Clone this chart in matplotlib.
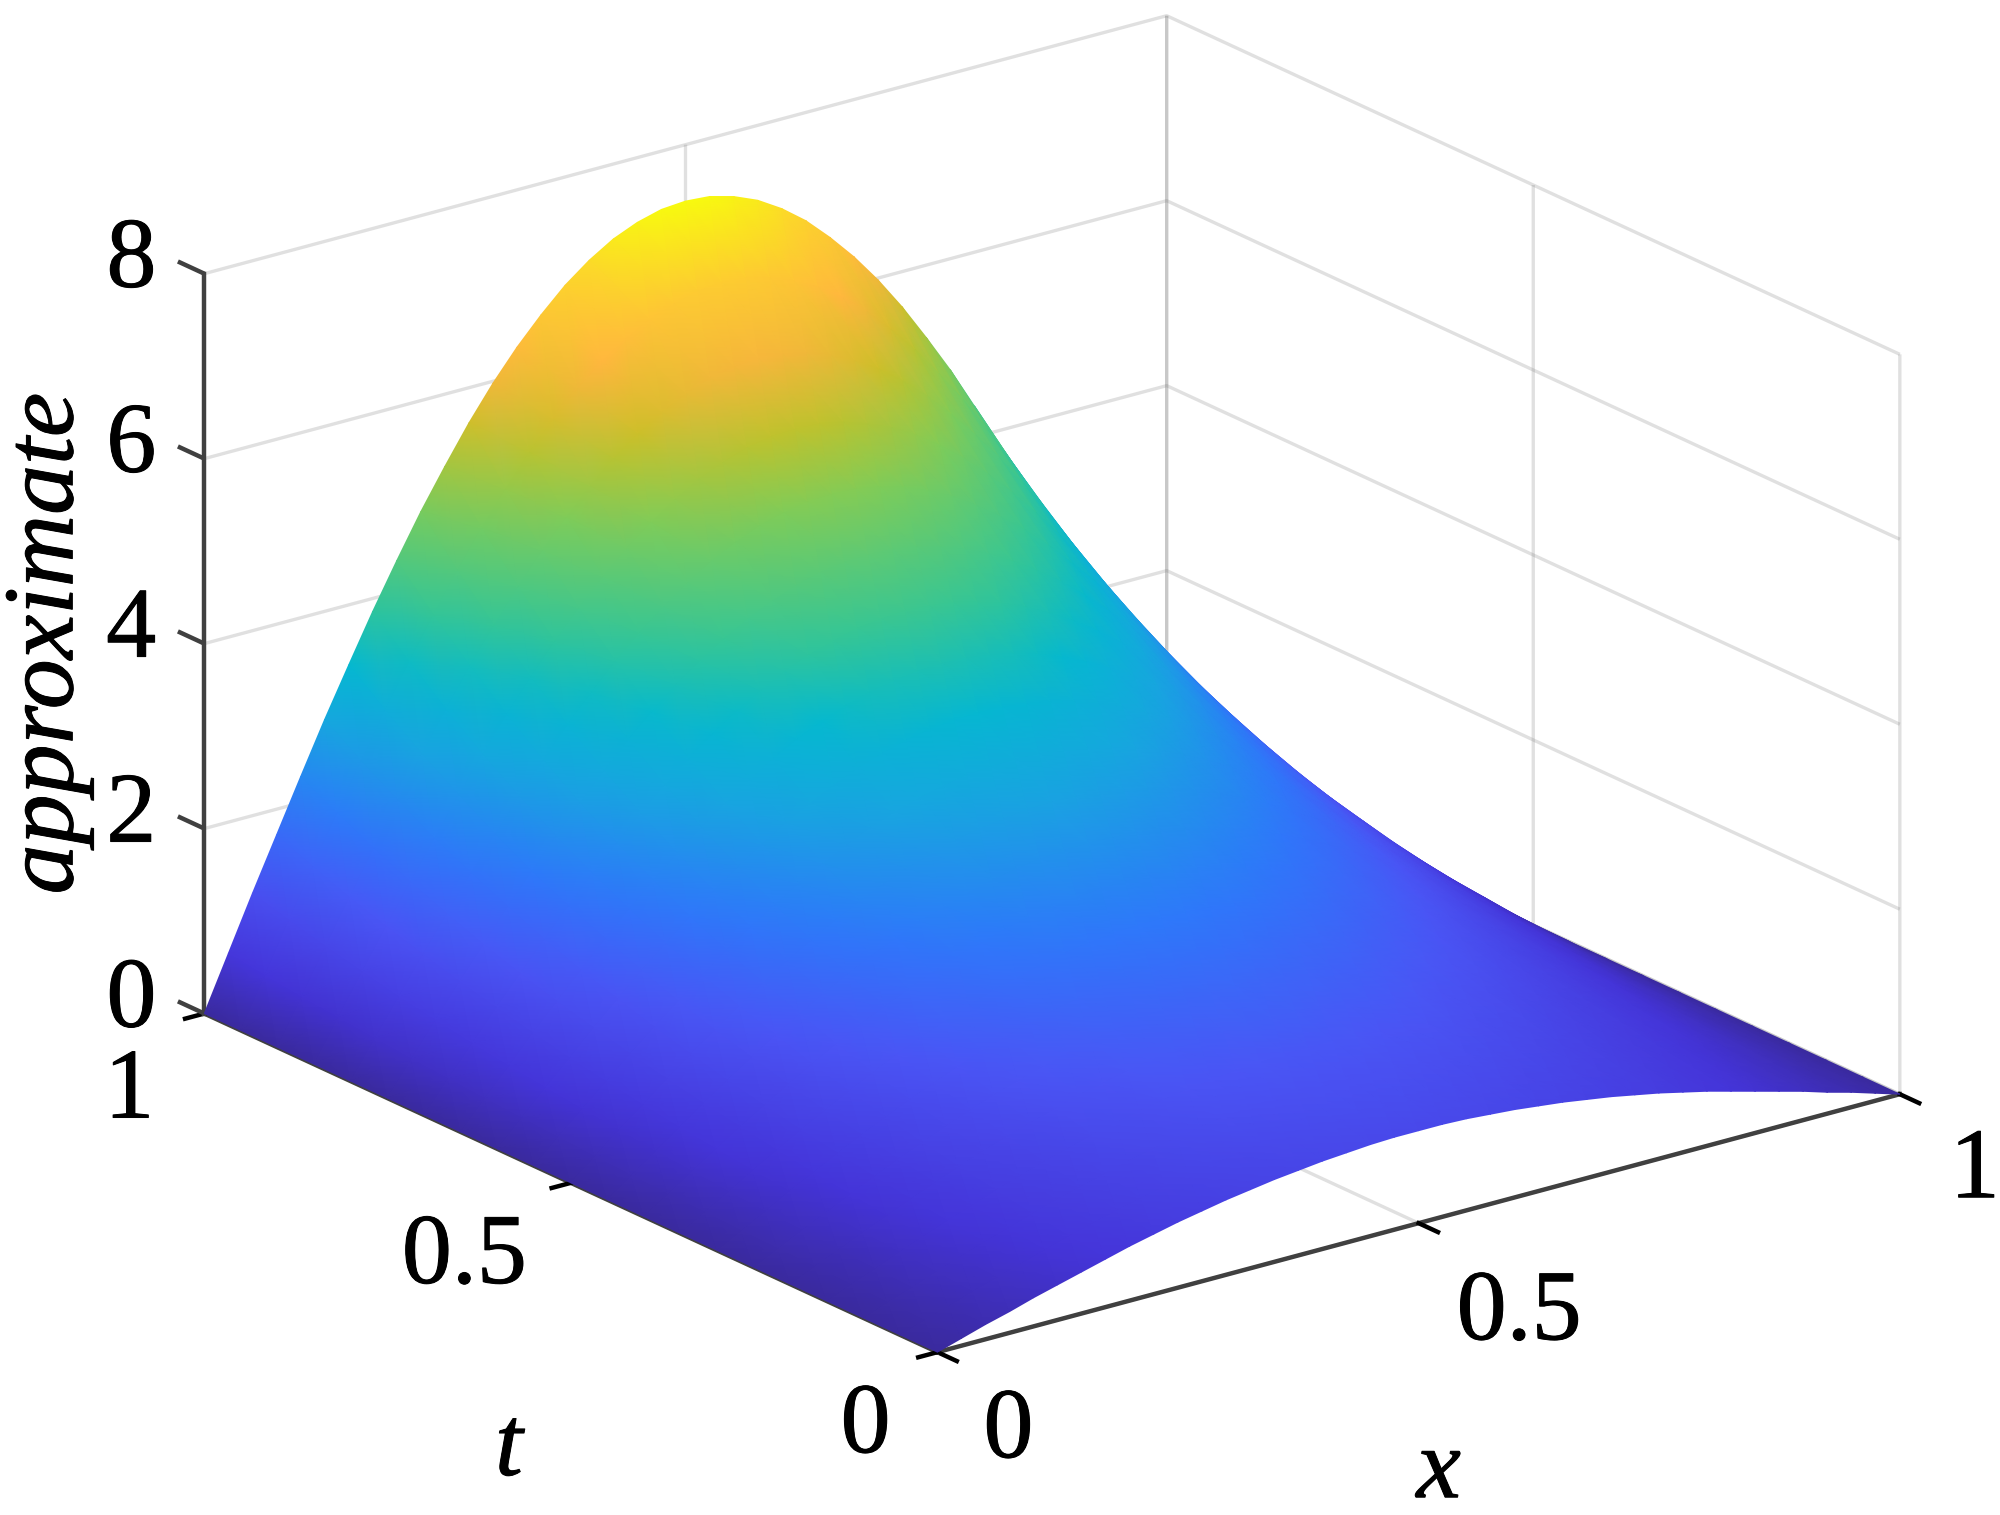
import numpy as np
import matplotlib
matplotlib.use("Agg")
import matplotlib.pyplot as plt
import matplotlib.patheffects as pe
from matplotlib.colors import LinearSegmentedColormap
from mpl_toolkits.mplot3d import proj3d

plt.rcParams["font.family"] = ["Liberation Serif", "DejaVu Serif"]

# x from 0 to 0.5; the surface reads the same on both sides of x = 0.5
x_half = [0.000, 0.025, 0.050, 0.075, 0.100, 0.125, 0.150, 0.175, 0.200, 0.225, 0.250,
          0.275, 0.300, 0.325, 0.350, 0.375, 0.400, 0.425, 0.450, 0.475, 0.500]
t_vals = [0.00, 0.05, 0.10, 0.15, 0.20, 0.25, 0.30, 0.35, 0.40, 0.45, 0.50,
          0.55, 0.60, 0.65, 0.70, 0.75, 0.80, 0.85, 0.90, 0.95, 1.00]

# surface height, one row per t value
z_rows = [
    [0, .08, .16, .23, .31, .38, .45, .52, .59, .65, .71, .76, .81, .85, .89, .92, .95, .97, .99, 1.00, 1.00],
    [0, .09, .17, .26, .34, .42, .50, .58, .65, .72, .78, .84, .89, .94, .98, 1.02, 1.05, 1.07, 1.09, 1.10, 1.11],
    [0, .10, .19, .29, .38, .47, .55, .64, .72, .79, .86, .93, .99, 1.04, 1.09, 1.13, 1.16, 1.19, 1.21, 1.22, 1.22],
    [0, .11, .21, .32, .42, .52, .61, .71, .79, .88, .95, 1.03, 1.09, 1.15, 1.20, 1.25, 1.28, 1.31, 1.33, 1.35, 1.35],
    [0, .12, .23, .35, .46, .57, .68, .78, .88, .97, 1.05, 1.13, 1.21, 1.27, 1.33, 1.38, 1.42, 1.45, 1.47, 1.49, 1.49],
    [0, .13, .26, .38, .51, .63, .75, .86, .97, 1.07, 1.17, 1.25, 1.33, 1.41, 1.47, 1.52, 1.57, 1.60, 1.63, 1.64, 1.65],
    [0, .14, .28, .43, .56, .70, .83, .95, 1.07, 1.18, 1.29, 1.39, 1.47, 1.55, 1.62, 1.68, 1.73, 1.77, 1.80, 1.82, 1.82],
    [0, .16, .31, .47, .62, .77, .91, 1.05, 1.18, 1.31, 1.42, 1.53, 1.63, 1.72, 1.79, 1.86, 1.92, 1.96, 1.99, 2.01, 2.01],
    [0, .17, .35, .52, .69, .85, 1.01, 1.16, 1.31, 1.45, 1.57, 1.69, 1.80, 1.90, 1.98, 2.06, 2.12, 2.16, 2.20, 2.22, 2.23],
    [0, .19, .38, .57, .76, .94, 1.12, 1.29, 1.45, 1.60, 1.74, 1.87, 1.99, 2.10, 2.19, 2.27, 2.34, 2.39, 2.43, 2.45, 2.46],
    [0, .21, .43, .63, .84, 1.04, 1.23, 1.42, 1.60, 1.77, 1.92, 2.07, 2.20, 2.32, 2.42, 2.51, 2.59, 2.64, 2.68, 2.71, 2.72],
    [0, .24, .47, .70, .93, 1.15, 1.36, 1.57, 1.77, 1.95, 2.12, 2.28, 2.43, 2.56, 2.68, 2.78, 2.86, 2.92, 2.97, 2.99, 3.00],
    [0, .26, .52, .77, 1.03, 1.27, 1.51, 1.73, 1.95, 2.16, 2.35, 2.52, 2.69, 2.83, 2.96, 3.07, 3.16, 3.23, 3.28, 3.31, 3.32],
    [0, .29, .57, .86, 1.13, 1.40, 1.67, 1.92, 2.16, 2.38, 2.59, 2.79, 2.97, 3.13, 3.27, 3.39, 3.49, 3.57, 3.62, 3.66, 3.67],
    [0, .32, .63, .95, 1.25, 1.55, 1.84, 2.12, 2.38, 2.63, 2.87, 3.08, 3.28, 3.46, 3.61, 3.75, 3.86, 3.94, 4.01, 4.04, 4.06],
    [0, .35, .70, 1.05, 1.38, 1.72, 2.03, 2.34, 2.63, 2.91, 3.17, 3.41, 3.63, 3.82, 3.99, 4.14, 4.26, 4.36, 4.43, 4.47, 4.48],
    [0, .39, .77, 1.16, 1.53, 1.90, 2.25, 2.59, 2.91, 3.22, 3.50, 3.77, 4.01, 4.22, 4.41, 4.58, 4.71, 4.82, 4.89, 4.94, 4.95],
    [0, .43, .86, 1.28, 1.69, 2.09, 2.49, 2.86, 3.22, 3.55, 3.87, 4.16, 4.43, 4.67, 4.88, 5.06, 5.21, 5.32, 5.41, 5.46, 5.47],
    [0, .47, .95, 1.41, 1.87, 2.32, 2.75, 3.16, 3.56, 3.93, 4.28, 4.60, 4.89, 5.16, 5.39, 5.59, 5.75, 5.88, 5.98, 6.03, 6.05],
    [0, .52, 1.05, 1.56, 2.07, 2.56, 3.04, 3.49, 3.93, 4.34, 4.73, 5.08, 5.41, 5.70, 5.96, 6.18, 6.36, 6.50, 6.60, 6.67, 6.69],
    [0, .58, 1.16, 1.72, 2.28, 2.83, 3.35, 3.86, 4.34, 4.80, 5.22, 5.62, 5.98, 6.30, 6.58, 6.83, 7.03, 7.19, 7.30, 7.37, 7.39],
]

x_ticks = [0, 0.5, 1]
t_ticks = [0, 0.5, 1]
z_ticks = [0, 2, 4, 6, 8]
xt_labels = ["0", "0.5", "1"]
z_labels = ["0", "2", "4", "6", "8"]

surface_colors = ["#3a2a9e", "#4434d8", "#4a55f5", "#2e78fa", "#18a5e0", "#05b8d0", "#30c59a",
                  "#80cc58", "#c8c028", "#ffb53f", "#fcd82a", "#f8fa0f"]
surface_levels = [0.0, 0.068, 0.176, 0.27, 0.376, 0.456, 0.528, 0.663, 0.751, 0.832, 0.947, 1.0]

W, H = 2000, 1515
GRID = (0.45, 0.45, 0.45, 0.22)
AXC = "#404040"
FS = 36

fig = plt.figure(figsize=(W / 200, H / 200), dpi=200)
side = 1300
ax = fig.add_axes([384.5 / W, 163.5 / H, side / W, side / H], projection="3d", proj_type="ortho")
ax.view_init(elev=20.6, azim=-127.3)
ax.set_box_aspect((949, 949, 620), zoom=1.4074)
ax.set_xlim(0, 1)
ax.set_ylim(0, 1)
ax.set_zlim(0, 8)
ax.set_xticks(x_ticks, [])
ax.set_yticks(t_ticks, [])
ax.set_zticks(z_ticks, [])
ax.patch.set_alpha(0)

for axis in (ax.xaxis, ax.yaxis, ax.zaxis):
    axis.set_pane_color((1, 1, 1, 0))
    axis.pane.set_edgecolor((1, 1, 1, 0))
    axis.line.set_color(AXC)
    axis.line.set_linewidth(1.6)
    axis._axinfo["grid"].update(color=GRID, linewidth=1.2)
ax.xaxis._axinfo["tick"].update(inward_factor=0.33, outward_factor=0.0, color=AXC, linewidth={True: 1.6, False: 1.6})
ax.yaxis._axinfo["tick"].update(inward_factor=0.25, outward_factor=0.0, color=AXC, linewidth={True: 1.6, False: 1.6})
ax.zaxis._axinfo["tick"].update(inward_factor=0.0, outward_factor=0.0, color=AXC, linewidth={True: 0, False: 0})
# z ticks run along t in the reference
for zv in z_ticks:
    ax.plot([0, 0], [1, 1.036], [zv, zv], color=AXC, lw=1.6, clip_on=False, solid_capstyle="butt")

fig.canvas.draw()
M = ax.get_proj()


def to_pixels(xv, tv, zv):
    xs, ys, _ = proj3d.proj_transform(np.ravel(xv), np.ravel(tv), np.ravel(zv), M)
    return ax.transData.transform(np.column_stack([xs, ys]))


# surface goes on a 2d layer so gouraud shading can be used; far corner first
x_vals = np.concatenate([x_half, 1 - np.array(x_half[-2::-1])])
X, T = np.meshgrid(x_vals, t_vals)
Z = np.array([r + r[-2::-1] for r in z_rows], dtype=float)
X, T, Z = X[::-1, ::-1], T[::-1, ::-1], Z[::-1, ::-1]
pix = to_pixels(X, T, Z)
px = pix[:, 0].reshape(X.shape)
py = pix[:, 1].reshape(X.shape)

cmap = LinearSegmentedColormap.from_list("surf", list(zip(surface_levels, surface_colors)), N=512)
top = fig.add_axes([0, 0, 1, 1])
top.set_xlim(0, W)
top.set_ylim(0, H)
top.axis("off")
top.pcolormesh(px, py, Z, shading="gouraud", cmap=cmap, vmin=0, vmax=7.39)

stroke = [pe.withStroke(linewidth=0.35, foreground="black")]


def put(s, pos, off, ha="center", va="center", **kw):
    top.annotate(s, xy=pos, xytext=off, textcoords="offset pixels", ha=ha, va=va,
                 fontsize=FS, color="black", path_effects=stroke, **kw)


for zv, lab in zip(z_ticks, z_labels):
    put(lab, to_pixels(0, 1, zv)[0], (-48, 11), ha="right")
for tv, lab, off in zip(t_ticks, xt_labels, [(-47, -76), (-44, -76), (-50, -80)]):
    put(lab, to_pixels(0, tv, 0)[0], off, ha="right")
for xv, lab, off in zip(x_ticks, xt_labels, [(46, -81), (38, -92), (50, -79)]):
    put(lab, to_pixels(xv, 0, 0)[0], off, ha="left")

put("x", to_pixels(0.5, 0, 0)[0], (20, -250), style="italic")
put("t", to_pixels(0, 0.5, 0)[0], (-62, -268), style="italic")
put("approximate", to_pixels(0, 1, 4)[0], (-156, 0), style="italic", rotation=90)

fig.savefig("out.png", dpi=200)
